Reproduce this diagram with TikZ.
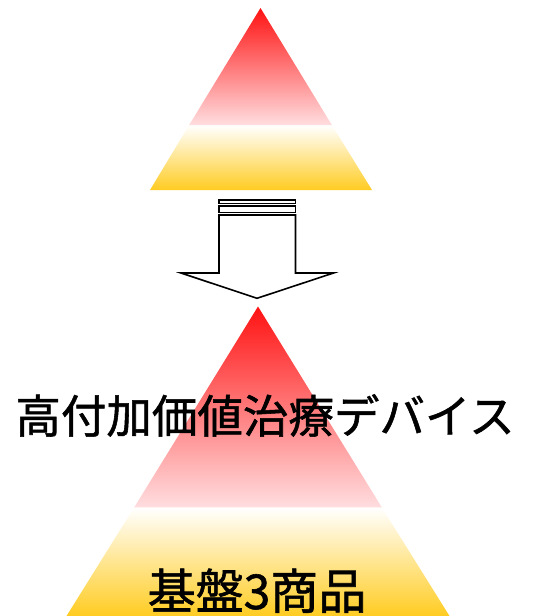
\documentclass[tikz,border=0pt]{standalone}
\usepackage{fontspec}
\newfontfamily\jp{Noto Sans CJK JP}[FakeBold=1.2]
\definecolor{topred}{RGB}{255,18,18}
\definecolor{pinkend}{RGB}{255,222,224}
\definecolor{gold}{RGB}{255,204,34}
\tikzset{
  arrowline/.style={draw=black, fill=white, line width=1.6pt, line join=miter},
  label/.style={font=\jp\fontsize{45.5}{50}\selectfont, text=black, inner sep=0pt, anchor=base}
}
\begin{document}
\begin{tikzpicture}[x=1pt,y=-1pt]
\useasboundingbox (0,0) rectangle (533,616);
% top pyramid
\shade[top color=topred, bottom color=pinkend] (260.5,8) -- (332,125.3) -- (189,125.3) -- cycle;
\shade[top color=white, bottom color=gold] (189,125.3) -- (332,125.3) -- (372,190) -- (150,190) -- cycle;
% arrow
\draw[arrowline] (219,200) rectangle (295.5,203.5);
\draw[arrowline] (219,206) rectangle (295.5,212.3);
\draw[arrowline] (219,215) -- (295.5,215) -- (295.5,273) -- (333.5,273) -- (257,298.3) -- (181,273) -- (219,273) -- cycle;
% bottom pyramid
\shade[top color=topred, bottom color=pinkend] (258,306.5) -- (382,507.7) -- (134,507.7) -- cycle;
\shade[top color=white, bottom color=gold] (134,507.7) -- (382,507.7) -- (449.5,616) -- (66.5,616) -- cycle;
% labels
\node[label] (upper) at (265,433) {高付加価値治療デバイス};
\node[label, font=\jp\fontsize{48}{52}\selectfont] (lower) at (257,609) {基盤3商品};
\end{tikzpicture}
\end{document}
